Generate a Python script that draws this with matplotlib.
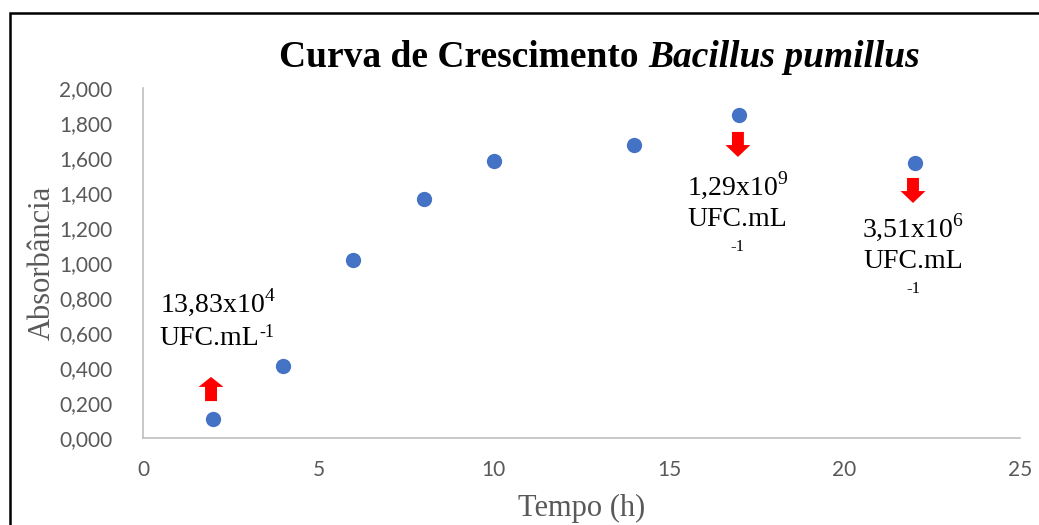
import matplotlib
matplotlib.use("Agg")
import matplotlib.pyplot as plt
from matplotlib.patches import Rectangle
from matplotlib.ticker import FuncFormatter

plt.rcParams["mathtext.fontset"] = "custom"
plt.rcParams["mathtext.rm"] = "Liberation Serif"

# Data
tempo_h = [2, 4, 6, 8, 10, 14, 17, 22]
absorbancia = [0.11, 0.41, 1.015, 1.365, 1.585, 1.672, 1.845, 1.57]

# UFC annotations: (x, main text)
ufc_x = [2, 17, 22]
ufc_labels = ["13,83x10$^{\\mathrm{4}}$", "1,29x10$^{\\mathrm{9}}$", "3,51x10$^{\\mathrm{6}}$"]

SERIF = "Liberation Serif"
GRAY = "#595959"
BLUE = "#4472C4"

fig = plt.figure(figsize=(10.39, 5.25), dpi=100)
ax = fig.add_axes([0.1376, 0.1657, 0.8441, 0.6667])

ax.plot(tempo_h, absorbancia, "o", color=BLUE, markersize=11, markeredgewidth=0)

ax.set_xlim(0, 25)
ax.set_ylim(0, 2.0)
ax.set_xticks([0, 5, 10, 15, 20, 25])
ax.set_yticks([i * 0.2 for i in range(11)])
ax.yaxis.set_major_formatter(FuncFormatter(lambda v, p: f"{v:.3f}".replace(".", ",")))
ax.tick_params(length=0, labelsize=15, colors=GRAY, labelfontfamily="Lato")
ax.tick_params(axis="y", pad=22)
ax.tick_params(axis="x", pad=16)
for s in ["top", "right"]:
    ax.spines[s].set_visible(False)
for s in ["left", "bottom"]:
    ax.spines[s].set_color("#BFBFBF")
    ax.spines[s].set_linewidth(1.2)

ax.set_xlabel("Tempo (h)", family=SERIF, fontsize=22, color=GRAY, labelpad=10)
ax.set_ylabel("Absorbância", family=SERIF, fontsize=22, color=GRAY, labelpad=2)

fig.text(0.6237, 0.89, "Curva de Crescimento ", family=SERIF, fontsize=27,
         weight="bold", ha="right", va="center")
fig.text(0.6237, 0.89, "Bacillus pumillus", family=SERIF, fontsize=27,
         weight="bold", style="italic", ha="left", va="center")

# annotations
ax.text(0.48, 0.775, ufc_labels[0], family=SERIF, fontsize=20, ha="left", va="center")
t = ax.text(0.48, 0.57, "UFC.mL", family=SERIF, fontsize=20, ha="left", va="center")
ax.annotate("-1", xy=(1.0, 1.0), xycoords=t, xytext=(0, 1), textcoords="offset points",
            family=SERIF, fontsize=13, ha="left", va="top")

for x, lab, y0 in [(ufc_x[1], ufc_labels[1], 1.446), (ufc_x[2], ufc_labels[2], 1.206)]:
    ax.text(x - 0.05, y0, lab, family=SERIF, fontsize=20, ha="center", va="center")
    ax.text(x - 0.05, y0 - 0.2, "UFC.mL", family=SERIF, fontsize=20, ha="center", va="center")
    ax.text(x - 0.05, y0 - 0.355, "-1", family=SERIF, fontsize=12, ha="center", va="center")

# red arrows
ax.arrow(1.94, 0.211, 0, 0.138, width=0.34, head_width=0.71, head_length=0.057,
         length_includes_head=True, color="#FF0000", lw=0)
ax.arrow(16.96, 1.749, 0, -0.143, width=0.34, head_width=0.71, head_length=0.068,
         length_includes_head=True, color="#FF0000", lw=0)
ax.arrow(21.95, 1.486, 0, -0.143, width=0.34, head_width=0.71, head_length=0.068,
         length_includes_head=True, color="#FF0000", lw=0)

# outer frame (clipped at the right and bottom edges)
fig.patches.append(Rectangle((10 / 1039, -0.05), 1.2, (525 - 13) / 525 + 0.05,
                             transform=fig.transFigure, fill=False,
                             edgecolor="black", linewidth=1.8))

fig.savefig("out.png", dpi=100)
